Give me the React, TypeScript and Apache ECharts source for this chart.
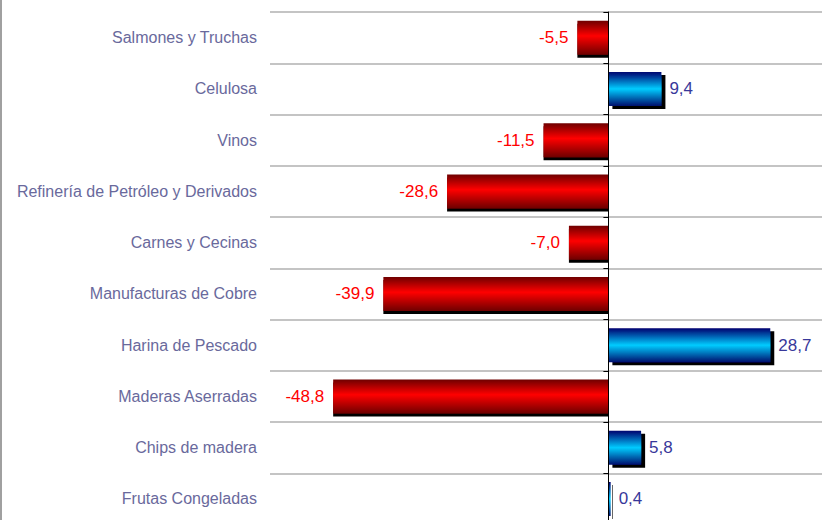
import React, { useEffect, useRef } from "react";
import * as echarts from "echarts";

const categories = [
  "Salmones y Truchas",
  "Celulosa",
  "Vinos",
  "Refinería de Petróleo y Derivados",
  "Carnes y Cecinas",
  "Manufacturas de Cobre",
  "Harina de Pescado",
  "Maderas Aserradas",
  "Chips de madera",
  "Frutas Congeladas",
];
const values = [-5.5, 9.4, -11.5, -28.6, -7.0, -39.9, 28.7, -48.8, 5.8, 0.4];

const redGrad = () =>
  new echarts.graphic.LinearGradient(0, 0, 0, 1, [
    { offset: 0, color: "#6e0000" },
    { offset: 0.45, color: "#ff0000" },
    { offset: 1, color: "#6e0000" },
  ]);
const blueGrad = () =>
  new echarts.graphic.LinearGradient(0, 0, 0, 1, [
    { offset: 0, color: "#00006e" },
    { offset: 0.5, color: "#00ccff" },
    { offset: 1, color: "#00106e" },
  ]);

const fmt = (v: number) => v.toFixed(1).replace(".", ",");

export default function App() {
  const ref = useRef<HTMLDivElement>(null);
  useEffect(() => {
    if (!ref.current) return;
    const chart = echarts.init(ref.current, null, { renderer: "svg" });
    const font = "'Liberation Sans', Arial, sans-serif";
    chart.setOption({
      animation: false,
      backgroundColor: "#ffffff",
      grid: {
        left: 270,
        top: 12,
        width: 564,
        height: 512.6,
        containLabel: false,
        outerBoundsMode: "none",
      },
      xAxis: {
        type: "value",
        min: -60,
        max: 40,
        show: false,
        splitLine: { show: false },
      },
      yAxis: [
        {
          type: "category",
          data: categories,
          inverse: true,
          position: "left",
          axisLine: { show: true, onZero: true, lineStyle: { color: "#000000", width: 1 } },
          axisTick: { show: true, length: 5, lineStyle: { color: "#000000" } },
          axisLabel: { show: false },
          splitLine: { show: true, lineStyle: { color: "#c4c4c4", width: 2 } },
          z: 3,
        },
        {
          type: "category",
          data: categories,
          inverse: true,
          position: "left",
          offset: 0,
          axisLine: { show: false, onZero: false },
          axisTick: { show: false },
          splitLine: { show: false },
          axisLabel: {
            show: true,
            margin: 13,
            color: "#69699c",
            fontSize: 16,
            fontFamily: font,
          },
        },
      ],
      graphic: [
        {
          type: "rect",
          left: 0,
          top: 0,
          shape: { width: 2, height: 520 },
          style: { fill: "#a0a0a0" },
        },
      ],
      series: [
        {
          type: "bar",
          yAxisIndex: 0,
          barWidth: 34,
          z: 2,
          data: values.map((v) => ({
            value: v,
            itemStyle: {
              color: v < 0 ? redGrad() : blueGrad(),
              shadowColor: "#000000",
              shadowBlur: 0,
              shadowOffsetX: v < 0 ? 0 : 4,
              shadowOffsetY: 3,
            },
            label: {
              show: true,
              position: v < 0 ? "left" : "right",
              distance: v < 0 ? 9 : 8,
              color: v < 0 ? "#ff0000" : "#38389a",
              fontSize: 17,
              fontFamily: font,
              formatter: () => fmt(v),
            },
          })),
        },
      ],
    });
    return () => chart.dispose();
  }, []);
  return (
    <div
      ref={ref}
      style={{ position: "fixed", left: 0, top: 0, width: 822, height: 520 }}
    />
  );
}
